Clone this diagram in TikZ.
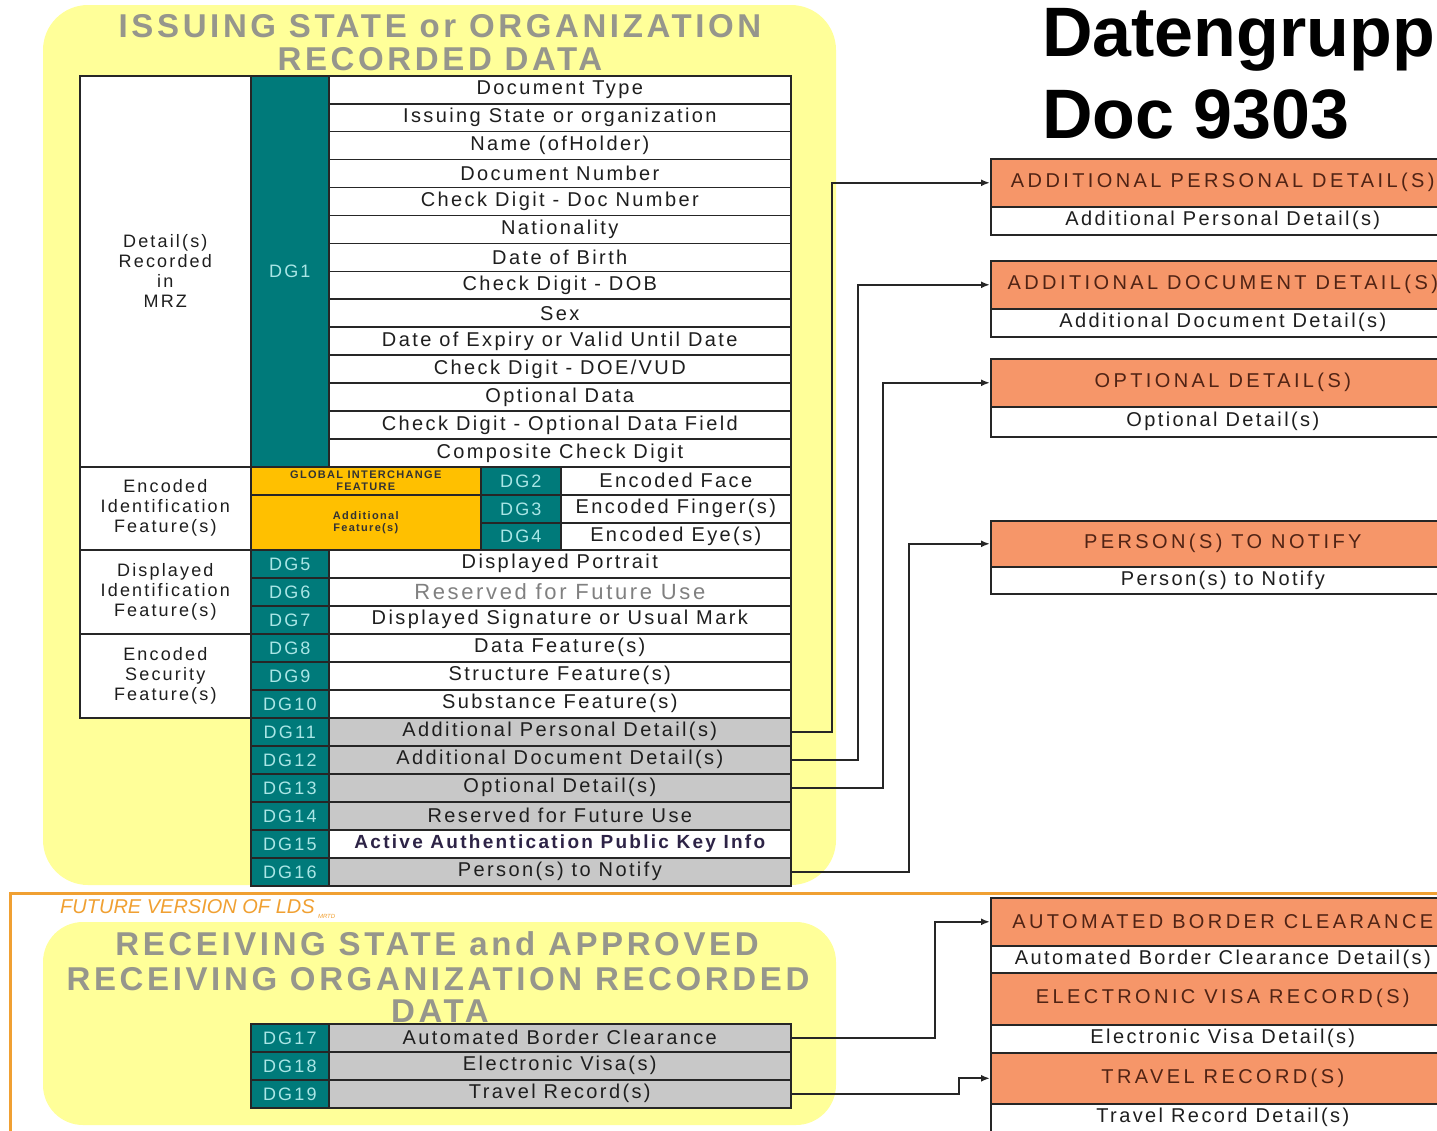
\documentclass[tikz,border=0pt]{standalone}
\usepackage{fontspec}
\setmainfont{Liberation Sans}
\newfontfamily\tbl[LetterSpace=12]{Liberation Sans}
\newfontfamily\hdr[LetterSpace=17]{Liberation Sans}
\newfontfamily\ttl[LetterSpace=11]{Liberation Sans}
\usetikzlibrary{arrows.meta}
\definecolor{pyellow}{RGB}{255,255,153}
\definecolor{tealc}{RGB}{0,122,122}
\definecolor{dgtxt}{RGB}{170,230,230}
\definecolor{goldc}{RGB}{255,192,0}
\definecolor{graycell}{RGB}{200,200,200}
\definecolor{orbox}{RGB}{246,150,105}
\definecolor{orline}{RGB}{240,160,50}
\definecolor{ttlgray}{RGB}{150,150,140}
\definecolor{hdrtxt}{RGB}{80,35,20}
\definecolor{celltxt}{RGB}{30,30,30}
\tikzset{
  cellbox/.style={draw=black!85, line width=1.6pt, inner sep=0pt, anchor=north west, minimum height=28pt},
  txt/.style={cellbox, fill=white, minimum width=462pt, font=\tbl\fontsize{20}{22}\selectfont, text=celltxt},
  gtxt/.style={txt, fill=graycell},
  dgc/.style={cellbox, fill=tealc, minimum width=78pt, font=\tbl\fontsize{18}{20}\selectfont, text=dgtxt},
  lab/.style={cellbox, fill=white, minimum width=171pt, align=center, font=\tbl\fontsize{18}{20}\selectfont, text=celltxt},
  goldbox/.style={cellbox, fill=goldc, minimum width=230pt, align=center, font=\tbl\bfseries\fontsize{11}{12}\selectfont, text=black!80},
  hbox/.style={cellbox, fill=orbox, minimum width=464pt, minimum height=48pt, font=\hdr\fontsize{20}{22}\selectfont, text=hdrtxt},
  wbox/.style={cellbox, fill=white, minimum width=464pt, font=\tbl\fontsize{20}{22}\selectfont, text=celltxt},
  ttlstyle/.style={anchor=base, inner sep=0pt, font=\ttl\bfseries\fontsize{33}{36}\selectfont, text=ttlgray},
  conn/.style={draw=black!85, line width=1.8pt, -{Latex[length=9pt,width=7pt]}}
}
\begin{document}
\begin{tikzpicture}[x=1pt,y=-1pt]
\clip (0,0) rectangle (1437,1130);
% backgrounds
\fill[pyellow, rounded corners=45pt] (43,5) rectangle (836,885);
\fill[pyellow, rounded corners=40pt] (43,922) rectangle (836,1125);
\draw[orline, line width=3pt] (10,1140) -- (10,893) -- (1450,893);
% titles
\node[ttlstyle] (t1a) at (440,37) {ISSUING STATE or ORGANIZATION};
\node[ttlstyle] (t1b) at (440,70) {RECORDED DATA};
\node[ttlstyle] (t2a) at (437,955) {RECEIVING STATE and APPROVED};
\node[ttlstyle] (t2b) at (438,990) {RECEIVING ORGANIZATION RECORDED};
\node[ttlstyle] (t2c) at (440,1022) {DATA};
\node[anchor=base west, inner sep=0pt, font=\bfseries\fontsize{70}{78}\selectfont] (dg) at (1042,56) {Datengrupp};
\node[anchor=base west, inner sep=0pt, font=\bfseries\fontsize{70}{78}\selectfont] (doc) at (1042,138) {Doc 9303};
\node[anchor=base west, inner sep=0pt, font=\itshape\fontsize{20}{22}\selectfont, text=orline] (fut) at (60,913) {FUTURE VERSION OF LDS\,\raisebox{-5pt}{\fontsize{6}{6}\selectfont MRTD}};
% left labels
\node[lab, minimum height=391pt] (mrz) at (79,75) {Detail(s)\\Recorded\\in\\MRZ};
\node[lab, minimum height=83pt] (eif) at (79,466) {Encoded\\Identification\\Feature(s)};
\node[lab, minimum height=84pt] (dif) at (79,549) {Displayed\\Identification\\Feature(s)};
\node[lab, minimum height=84pt] (esf) at (79,633) {Encoded\\Security\\Feature(s)};
% DG1
\node[dgc, minimum height=391pt] (dg1) at (250,75) {DG1};
\foreach \t [count=\i] in {Document Type, Issuing State or organization, Name (ofHolder), Document Number, Check Digit - Doc Number, Nationality, Date of Birth, Check Digit - DOB, Sex, Date of Expiry or Valid Until Date, Check Digit - DOE/VUD, Optional Data, Check Digit - Optional Data Field, Composite Check Digit}
  \node[txt, minimum height=27.93pt] (m\i) at (328,{75+27.93*(\i-1)}) {\t};
% DG2-4
\node[goldbox, minimum height=28pt] (gif) at (250,466) {GLOBAL INTERCHANGE\\FEATURE};
\node[goldbox, minimum height=55pt] (adf) at (250,494) {Additional\\Feature(s)};
\node[dgc, minimum width=80pt] (dg2) at (480,466) {DG2};
\node[dgc, minimum width=80pt] (dg3) at (480,494) {DG3};
\node[dgc, minimum width=80pt, minimum height=27pt] (dg4) at (480,522) {DG4};
\node[txt, minimum width=230pt] (t2) at (560,466) {Encoded Face};
\node[txt, minimum width=230pt] (t3) at (560,494) {Encoded Finger(s)};
\node[txt, minimum width=230pt, minimum height=27pt] (t4) at (560,522) {Encoded Eye(s)};
% DG5-16
\node[dgc] (dg5) at (250,549) {DG5};   \node[txt] (t5) at (328,549) {Displayed Portrait};
\node[dgc] (dg6) at (250,577) {DG6};   \node[txt, text=black!50, font=\tbl\fontsize{22}{24}\selectfont] (t6) at (328,577) {Reserved for Future Use};
\node[dgc] (dg7) at (250,605) {DG7};   \node[txt] (t7) at (328,605) {Displayed Signature or Usual Mark};
\node[dgc] (dg8) at (250,633) {DG8};   \node[txt] (t8) at (328,633) {Data Feature(s)};
\node[dgc] (dg9) at (250,661) {DG9};   \node[txt] (t9) at (328,661) {Structure Feature(s)};
\node[dgc] (dg10) at (250,689) {DG10}; \node[txt] (t10) at (328,689) {Substance Feature(s)};
\node[dgc] (dg11) at (250,717) {DG11}; \node[gtxt] (t11) at (328,717) {Additional Personal Detail(s)};
\node[dgc] (dg12) at (250,745) {DG12}; \node[gtxt] (t12) at (328,745) {Additional Document Detail(s)};
\node[dgc] (dg13) at (250,773) {DG13}; \node[gtxt] (t13) at (328,773) {Optional Detail(s)};
\node[dgc] (dg14) at (250,801) {DG14}; \node[gtxt] (t14) at (328,801) {Reserved for Future Use};
\node[dgc] (dg15) at (250,829) {DG15}; \node[txt, text={rgb,255:red,45;green,35;blue,70}, font=\tbl\bfseries\fontsize{19}{21}\selectfont] (t15) at (328,829) {Active Authentication Public Key Info};
\node[dgc] (dg16) at (250,857) {DG16}; \node[gtxt] (t16) at (328,857) {Person(s) to Notify};
% DG17-19
\node[dgc] (dg17) at (250,1023) {DG17}; \node[gtxt] (t17) at (328,1023) {Automated Border Clearance};
\node[dgc] (dg18) at (250,1051) {DG18}; \node[gtxt] (t18) at (328,1051) {Electronic Visa(s)};
\node[dgc] (dg19) at (250,1079) {DG19}; \node[gtxt] (t19) at (328,1079) {Travel Record(s)};
% right boxes
\node[hbox] (h1) at (990,158) {ADDITIONAL PERSONAL DETAIL(S)};
\node[wbox] (w1) at (990,206) {Additional Personal Detail(s)};
\node[hbox] (h2) at (990,260) {ADDITIONAL DOCUMENT DETAIL(S)};
\node[wbox] (w2) at (990,308) {Additional Document Detail(s)};
\node[hbox] (h3) at (990,358) {OPTIONAL DETAIL(S)};
\node[wbox, minimum height=30pt] (w3) at (990,406) {Optional Detail(s)};
\node[hbox, minimum height=46pt] (h4) at (990,520) {PERSON(S) TO NOTIFY};
\node[wbox, minimum height=27pt] (w4) at (990,566) {Person(s) to Notify};
\node[hbox] (h5) at (990,897) {AUTOMATED BORDER CLEARANCE};
\node[wbox, minimum height=27pt] (w5) at (990,945) {Automated Border Clearance Detail(s)};
\node[hbox, minimum height=52pt] (h6) at (990,972) {ELECTRONIC VISA RECORD(S)};
\node[wbox] (w6) at (990,1024) {Electronic Visa Detail(s)};
\node[hbox, minimum height=51pt] (h7) at (990,1052) {TRAVEL RECORD(S)};
\node[wbox] (w7) at (990,1103) {Travel Record Detail(s)};
% connectors
\draw[conn] (t11.east) -- ++(40,0) |- (h1.west);
\draw[conn] (t12.east) -- ++(66,0) |- (h2.west);
\draw[conn] (t13.east) -- ++(91,0) |- (h3.west);
\draw[conn] (t16.east) -- ++(117,0) |- (h4.west);
\draw[conn] (t17.east) -- ++(143,0) |- (h5.west);
\draw[conn] (t19.east) -- ++(167,0) |- (h7.west);
\end{tikzpicture}
\end{document}
